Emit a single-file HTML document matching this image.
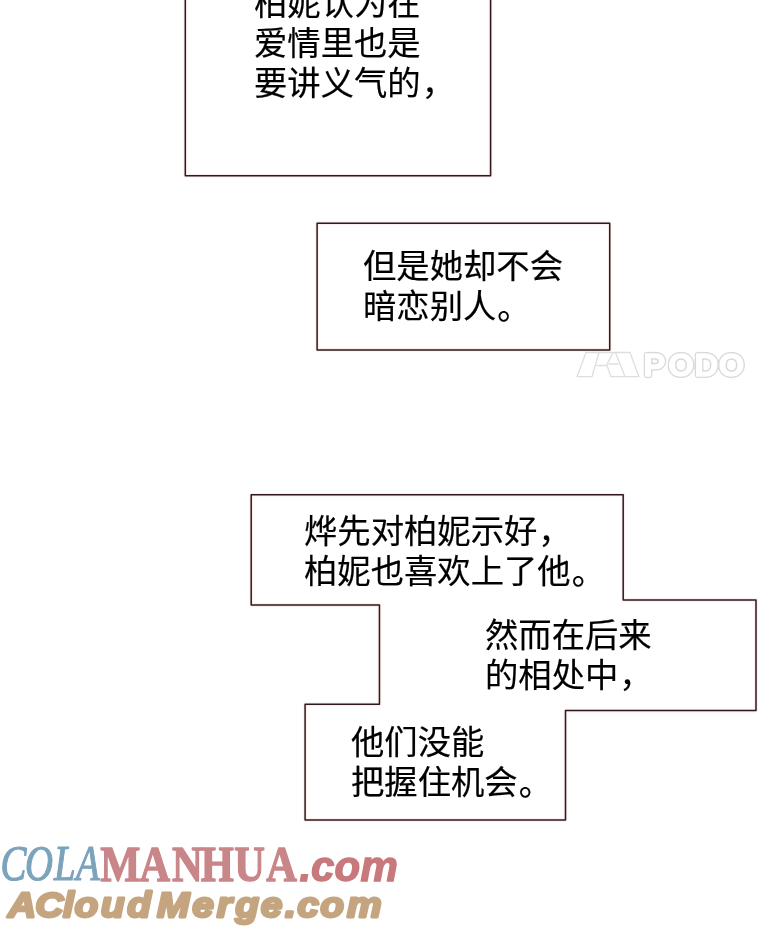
<!DOCTYPE html>
<html lang="zh-CN">
<head>
<meta charset="utf-8">
<title>page</title>
<style>
html,body{margin:0;padding:0;background:#fff;}
body{width:760px;height:933px;position:relative;overflow:hidden;font-family:"Liberation Sans","Noto Sans CJK SC",sans-serif;}
#boxes{will-change:transform;position:absolute;left:0;top:0;width:760px;height:933px;}
.t i{font-style:normal;position:relative;left:1px;top:0;}
.t i.d{top:1px;}
.t{will-change:transform;position:absolute;margin:0;white-space:nowrap;color:#000;font-size:33.33px;line-height:40px;font-weight:400;-webkit-text-stroke:0.18px #000;letter-spacing:0;}
</style>
</head>
<body>
<svg id="boxes" width="760" height="933" viewBox="0 0 760 933">
  <g fill="none" stroke="#fbeeed" stroke-width="3.6" stroke-linejoin="round">
    <path d="M185.3 -5 V175.7 H490.6 V-5"/>
    <path d="M317.1 223.15 H609.72 V349.92 H317.1 Z"/>
    <path d="M251.2 494.7 H623.2 V600 H756 V710.6 H565.5 V820 H305.08 V704.35 H379.45 V605.1 H251.2 Z"/>
  </g>
  <g fill="none" stroke="#2f191c" stroke-width="1.5" stroke-linejoin="round">
    <path d="M185.3 -5 V175.7 H490.6 V-5"/>
    <path d="M317.1 223.15 H609.72 V349.92 H317.1 Z"/>
    <path d="M251.2 494.7 H623.2 V600 H756 V710.6 H565.5 V820 H305.08 V704.35 H379.45 V605.1 H251.2 Z"/>
  </g>
  <g fill="none" stroke="#dedede" stroke-width="1.3" stroke-linejoin="round">
    <path d="M586 352.5 H599 L592 376.7 H577 Z"/>
    <path d="M599 352.5 H630 L639 376.7 H610.5"/>
    <path d="M613 352.5 L606.5 365.5 H596.5 M607 365.5 L611 376.7 M608.5 364 H618.5 M615.5 352.5 L625 376.7"/>
  </g>
  <defs>
    <filter id="ring" x="-10%" y="-30%" width="120%" height="160%" color-interpolation-filters="sRGB">
      <feGaussianBlur in="SourceAlpha" stdDeviation="1.1" result="b"/>
      <feComponentTransfer in="b" result="o"><feFuncA type="linear" slope="6" intercept="-0.25"/></feComponentTransfer>
      <feComposite in="o" in2="SourceAlpha" operator="out" result="r"/>
      <feFlood flood-color="#d9d9d9"/>
      <feComposite in2="r" operator="in"/>
    </filter>
  </defs>
  <text transform="translate(0 375.9) scale(1.06 1)" x="607.2 630.4 655.3 678.1" y="0" font-family="'Liberation Sans',sans-serif" font-weight="700" font-size="31" fill="#000" stroke="#000" stroke-width="1.3" stroke-linejoin="round" filter="url(#ring)">PODO</text>
  <g stroke-linejoin="round"><text transform="translate(0 880.4) scale(0.775 1)" x="0.6 32.3 69.7 98" y="0" font-family="'Liberation Serif',serif" font-style="italic" font-size="50" fill="#7ba3bc" stroke="#7ba3bc" stroke-width="1.2">COLA</text><text transform="translate(0 881) scale(0.85 1)" x="118.0 164.0 202.5 236.1 275.6 313.3" y="0" font-family="'Liberation Serif',serif" font-weight="700" font-size="50" fill="#c98689" stroke="#c98689" stroke-width="1.3">MANHUA</text><text x="299.5 311 334.5 360.5" y="880.5" font-family="'Liberation Sans',sans-serif" font-weight="700" font-style="italic" font-size="42" fill="#c8797c" stroke="#c8797c" stroke-width="1.4">.com</text>
    <text transform="translate(0 917.3) scale(1.08 1)" x="7.4 32.7 58.3 69.1 93.3 117.9 145.4 178.1 200.7 217.9 241.5 264.0 275.3 296.6 321.3" y="0" font-family="'Liberation Sans',sans-serif" font-weight="700" font-style="italic" font-size="36" fill="#c4a57f" stroke="#c4a57f" stroke-width="2.8">ACloudMerge.com</text></g>
</svg>

<p class="t" style="left:254px;top:-16px;">柏妮认为在<br>爱情里也是<br>要讲义气的<i>，</i></p>
<p class="t" style="left:363px;top:247px;">但是她却不会<br>暗恋别人<i class="d">。</i></p>
<p class="t" style="left:304px;top:512px;">烨先对柏妮示好<i>，</i><br>柏妮也喜欢上了他<i class="d">。</i></p>
<p class="t" style="left:485px;top:616px;">然而在后来<br>的相处中<i>，</i></p>
<p class="t" style="left:351px;top:723px;">他们没能<br>把握住机会<i class="d">。</i></p>
</body>
</html>
